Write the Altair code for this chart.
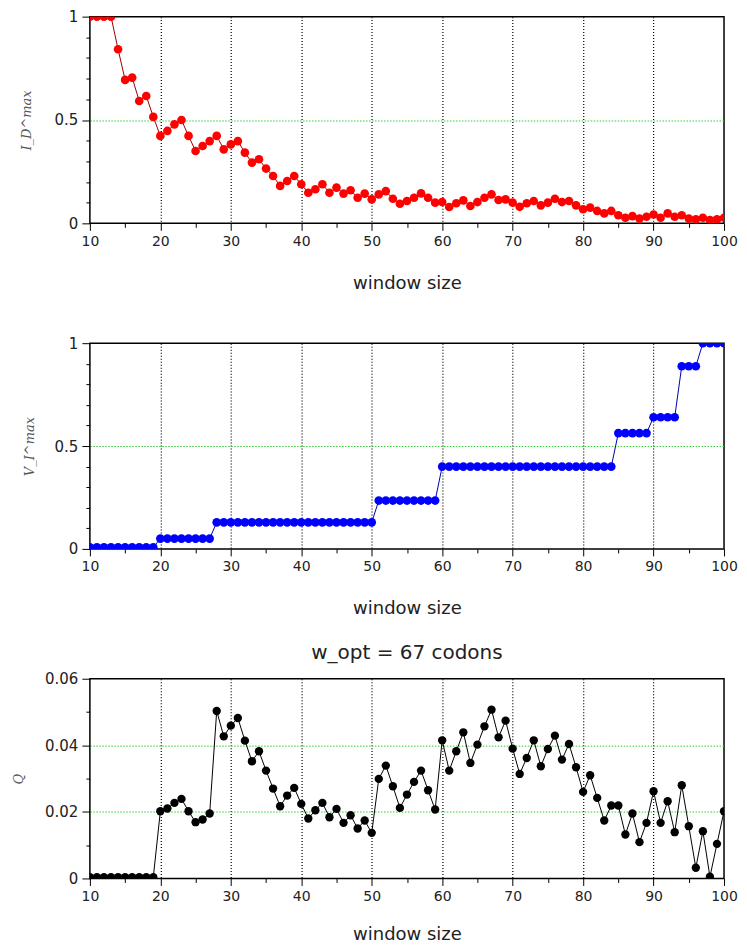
import altair as alt
import pandas as pd

# window sizes 10..100
window = [10, 11, 12, 13, 14, 15, 16, 17, 18, 19,
          20, 21, 22, 23, 24, 25, 26, 27, 28, 29,
          30, 31, 32, 33, 34, 35, 36, 37, 38, 39,
          40, 41, 42, 43, 44, 45, 46, 47, 48, 49,
          50, 51, 52, 53, 54, 55, 56, 57, 58, 59,
          60, 61, 62, 63, 64, 65, 66, 67, 68, 69,
          70, 71, 72, 73, 74, 75, 76, 77, 78, 79,
          80, 81, 82, 83, 84, 85, 86, 87, 88, 89,
          90, 91, 92, 93, 94, 95, 96, 97, 98, 99, 100]

i_d_max = [1.0, 1.0, 1.0, 1.0, 0.842, 0.694, 0.705, 0.592, 0.616, 0.515,
           0.423, 0.447, 0.479, 0.500, 0.423, 0.350, 0.374, 0.398, 0.423, 0.358,
           0.382, 0.398, 0.342, 0.294, 0.310, 0.265, 0.229, 0.181, 0.205, 0.229,
           0.189, 0.148, 0.165, 0.189, 0.148, 0.173, 0.144, 0.160, 0.124, 0.144,
           0.116, 0.140, 0.156, 0.119, 0.095, 0.108, 0.124, 0.145, 0.124, 0.100,
           0.103, 0.079, 0.097, 0.111, 0.084, 0.103, 0.124, 0.140, 0.113, 0.116,
           0.100, 0.080, 0.097, 0.108, 0.087, 0.100, 0.119, 0.103, 0.108, 0.087,
           0.068, 0.076, 0.060, 0.048, 0.060, 0.039, 0.027, 0.035, 0.023, 0.032,
           0.043, 0.027, 0.048, 0.032, 0.039, 0.023, 0.019, 0.027, 0.016, 0.019, 0.027]

v_i_max = [0.008, 0.008, 0.008, 0.008, 0.008, 0.008, 0.008, 0.008, 0.008, 0.008,
           0.050, 0.050, 0.050, 0.050, 0.050, 0.050, 0.050, 0.050, 0.129, 0.129,
           0.129, 0.129, 0.129, 0.129, 0.129, 0.129, 0.129, 0.129, 0.129, 0.129,
           0.129, 0.129, 0.129, 0.129, 0.129, 0.129, 0.129, 0.129, 0.129, 0.129,
           0.129, 0.235, 0.235, 0.235, 0.235, 0.235, 0.235, 0.235, 0.235, 0.235,
           0.400, 0.400, 0.400, 0.400, 0.400, 0.400, 0.400, 0.400, 0.400, 0.400,
           0.400, 0.400, 0.400, 0.400, 0.400, 0.400, 0.400, 0.400, 0.400, 0.400,
           0.400, 0.400, 0.400, 0.400, 0.400, 0.563, 0.563, 0.563, 0.563, 0.563,
           0.640, 0.640, 0.640, 0.640, 0.888, 0.888, 0.888, 1.0, 1.0, 1.0, 1.0]

q_vals = [0.0004, 0.0004, 0.0004, 0.0004, 0.0004, 0.0004, 0.0004, 0.0004, 0.0004, 0.0004,
          0.0202, 0.0210, 0.0227, 0.0239, 0.0202, 0.0169, 0.0177, 0.0195, 0.0503, 0.0427,
          0.0459, 0.0482, 0.0414, 0.0352, 0.0382, 0.0324, 0.0270, 0.0217, 0.0249, 0.0272,
          0.0224, 0.0180, 0.0205, 0.0227, 0.0184, 0.0209, 0.0167, 0.0190, 0.0150, 0.0174,
          0.0137, 0.0299, 0.0339, 0.0277, 0.0212, 0.0252, 0.0290, 0.0324, 0.0265, 0.0207,
          0.0415, 0.0324, 0.0382, 0.0439, 0.0347, 0.0402, 0.0457, 0.0507, 0.0424, 0.0474,
          0.0390, 0.0314, 0.0362, 0.0415, 0.0337, 0.0389, 0.0429, 0.0357, 0.0404, 0.0334,
          0.0260, 0.0310, 0.0242, 0.0174, 0.0219, 0.0219, 0.0132, 0.0195, 0.0109, 0.0167,
          0.0262, 0.0167, 0.0232, 0.0139, 0.0280, 0.0157, 0.0032, 0.0142, 0.0005, 0.0104, 0.0202]

x_tick_values = [10, 15, 20, 25, 30, 35, 40, 45, 50, 55, 60, 65, 70, 75, 80, 85, 90, 95, 100]
y_ticks_unit = [0, 0.1, 0.2, 0.3, 0.4, 0.5, 0.6, 0.7, 0.8, 0.9, 1.0]
y_ticks_q = [0, 0.01, 0.02, 0.03, 0.04, 0.05, 0.06]

FONT = "DejaVu Sans"
TXT = "#222222"
GREEN = "#33cc33"
PLOT_W = 635


def x_axis(title_pad):
    return alt.Axis(
        values=x_tick_values,
        title="window size",
        labelExpr="datum.value % 10 === 0 ? format(datum.value, 'd') : ''",
        labelFont=FONT, labelFontSize=14, labelColor=TXT, labelPadding=4,
        labelOverlap=False, labelFlush=False,
        titleFont=FONT, titleFontSize=18, titleFontWeight="normal",
        titleColor=TXT, titlePadding=title_pad,
        tickSize={"condition": {"test": "datum.value % 10 === 0", "value": 7}, "value": 4},
        tickColor="black", tickWidth=1,
        grid=True, gridColor="black", gridDash=[1, 2], gridWidth=1.2,
        gridOpacity={"condition": {"test": "datum.value % 10 === 0 && datum.value > 10 && datum.value < 100",
                                   "value": 1}, "value": 0},
        domain=False,
    )


def panel(values, color, line_color, y_title, y_ticks, major_test, grid_test,
          domain, height, title_pad, size, x_title_pad=26, title=None):
    df = pd.DataFrame({"w": window, "v": values})
    y_axis = alt.Axis(
        values=y_ticks,
        title=y_title,
        labelExpr=f"({major_test}) ? format(datum.value, '~g') : ''",
        labelFont=FONT, labelFontSize=15, labelColor=TXT, labelPadding=4,
        labelOverlap=False, labelFlush=False,
        titleFont="DejaVu Serif", titleFontStyle="italic", titleFontWeight="normal",
        titleFontSize=13, titleColor="#555555", titlePadding=title_pad,
        tickSize={"condition": {"test": major_test, "value": 8}, "value": 4},
        tickColor="black", tickWidth=1,
        grid=True, gridColor=GREEN, gridDash=[1.5, 1.5], gridWidth=1,
        gridOpacity={"condition": {"test": grid_test, "value": 1}, "value": 0},
        domain=False,
    )
    base = alt.Chart(df).encode(
        x=alt.X("w:Q", scale=alt.Scale(domain=[10, 100], nice=False, zero=False),
                axis=x_axis(x_title_pad)),
        y=alt.Y("v:Q", scale=alt.Scale(domain=domain, nice=False, zero=False), axis=y_axis),
    )
    line = base.mark_line(color=line_color, strokeWidth=1, clip=True)
    pts = base.mark_circle(color=color, size=size, opacity=1, clip=True)
    ch = alt.layer(line, pts).properties(width=PLOT_W, height=height)
    if title is not None:
        ch = ch.properties(title=title)
    return ch


p1 = panel(i_d_max, "#ff0000", "#990000", "I_D^max", y_ticks_unit,
           "abs(datum.value*2 - round(datum.value*2)) < 1e-6",
           "abs(datum.value - 0.5) < 1e-6",
           [0, 1], 207, 21, 75)

p2 = panel(v_i_max, "#0000ff", "#0000aa", "V_I^max", y_ticks_unit,
           "abs(datum.value*2 - round(datum.value*2)) < 1e-6",
           "abs(datum.value - 0.5) < 1e-6",
           [0, 1], 206, 18, 75,
           title=alt.TitleParams(" ", fontSize=10, offset=9))

p3 = panel(q_vals, "#000000", "#000000", "Q", y_ticks_q,
           "abs(datum.value*50 - round(datum.value*50)) < 1e-6",
           "abs(datum.value - 0.02) < 1e-6 || abs(datum.value - 0.04) < 1e-6",
           [0, 0.06], 200, 19, 70, x_title_pad=22,
           title=alt.TitleParams("w_opt = 67 codons", font=FONT, fontSize=20,
                                 fontWeight="normal", color=TXT, offset=9, anchor="middle"))

chart = alt.concat(p1, p2, p3, columns=1, spacing=23,
                   align={"row": "none", "column": "all"}).properties(
    padding={"left": 3, "top": 0, "right": 0, "bottom": 0},
    background="white",
).configure_view(stroke="black", strokeWidth=1.5)

chart.save("out.html", embed_options={"renderer": "svg", "actions": False})
